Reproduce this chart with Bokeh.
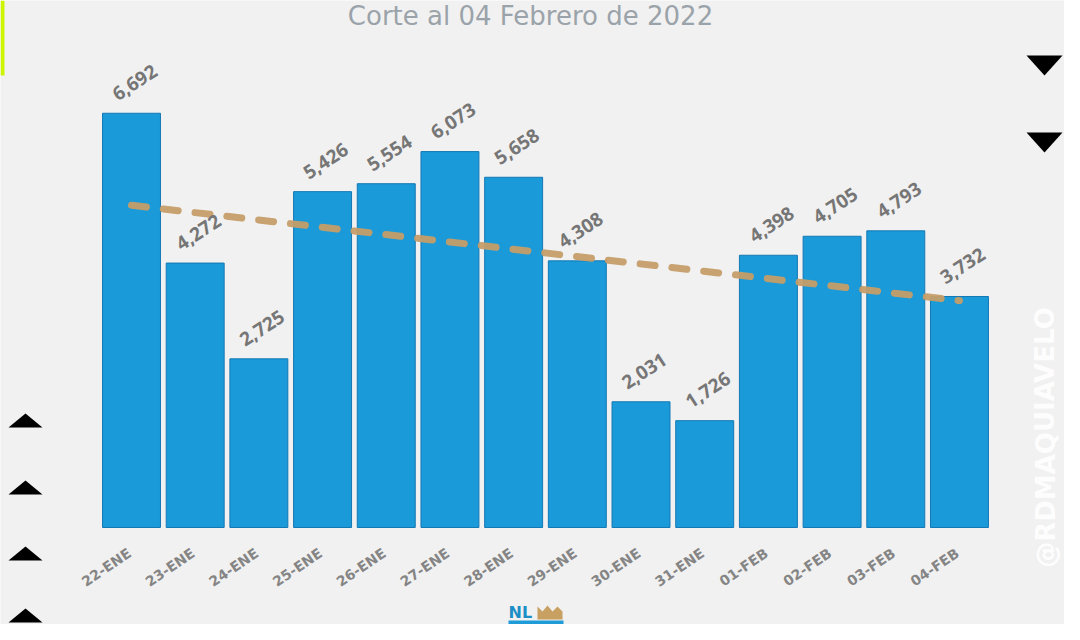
import numpy as np
from bokeh.plotting import figure
from bokeh.models import Range1d, ColumnDataSource
from bokeh.core.properties import value
from bokeh.embed import file_html
from bokeh.resources import INLINE

# ---- data ----
dates = ["22-ENE", "23-ENE", "24-ENE", "25-ENE", "26-ENE", "27-ENE", "28-ENE",
         "29-ENE", "30-ENE", "31-ENE", "01-FEB", "02-FEB", "03-FEB", "04-FEB"]
cases = [6692, 4272, 2725, 5426, 5554, 6073, 5658,
         4308, 2031, 1726, 4398, 4705, 4793, 3732]
labels = ["6,692", "4,272", "2,725", "5,426", "5,554", "6,073", "5,658",
          "4,308", "2,031", "1,726", "4,398", "4,705", "4,793", "3,732"]
trend_start_end = [5205, 3665]
title_text = "Corte al 04 Febrero de 2022"
watermark = "@RDMAQUIAVELO"

BG = "#f1f1f1"
W, H = 1064, 624
PITCH = 63.69          # px per category
X0 = 131               # px of first category centre
Y0 = 527               # px of baseline
PXU = 0.0619           # px per unit

pos = np.arange(len(dates))
src = ColumnDataSource(dict(x=pos, d=dates, v=cases, lab=labels))

p = figure(width=W, height=H, output_backend="svg", toolbar_location=None,
           x_range=Range1d(-X0 / PITCH, (W - X0) / PITCH),
           y_range=Range1d(-(H - Y0) / PXU, Y0 / PXU),
           min_border=0, min_border_left=0, min_border_right=0,
           min_border_top=0, min_border_bottom=0)
p.background_fill_color = BG
p.border_fill_color = BG
p.outline_line_color = None
p.grid.visible = False
p.axis.visible = False

# bars
p.vbar(x="x", top="v", width=0.91, source=src, fill_color="#1a9ad9",
       line_color="#1478b4", line_width=1)

# trend line (dashed)
p.line(x=[pos[0], pos[-1]], y=trend_start_end, line_color="#c59d68", line_width=7,
       line_dash="15 17", line_cap="round", line_alpha=0.95)

# value labels
p.text(x="x", y="v", text="lab", source=src, angle=0.58, x_offset=3, y_offset=-31,
       text_align="center", text_baseline="middle", text_color="#767676",
       text_font=value("Open Sans"), text_font_style="bold", text_font_size="19px")

# category labels (x axis)
p.text(x="x", y=0, text="d", source=src, angle=0.6, x_offset=-2, y_offset=24,
       text_align="right", text_baseline="middle", text_color="#858585",
       text_font=value("DejaVu Sans"), text_font_style="bold", text_font_size="14px")

# helpers: picture pixels -> data coords (decorations only)
def sx(px):
    return (px - X0) / PITCH

def sy(py):
    return (Y0 - py) / PXU

# title
p.text(x=[sx(530)], y=[sy(15)], text=[title_text], text_align="center",
       text_baseline="middle", text_color="#9ba3aa",
       text_font=value("DejaVu Sans"), text_font_size="26px")

# watermark
p.text(x=[sx(1045)], y=[sy(437)], text=[watermark], angle=1.5708,
       text_align="center", text_baseline="middle", text_color="#ffffff",
       text_alpha=0.9, text_font=value("DejaVu Sans"), text_font_style="bold",
       text_font_size="26px")

# decorative triangles
tri_x, tri_y = [], []
for top in (55, 132):
    tri_x.append([sx(1026), sx(1062), sx(1044)])
    tri_y.append([sy(top), sy(top), sy(top + 20)])
for top in (413, 480, 546, 608):
    tri_x.append([sx(8), sx(42), sx(25)])
    tri_y.append([sy(top + 14), sy(top + 14), sy(top)])
p.patches(tri_x, tri_y, fill_color="black", line_color=None)

# yellow-green strip at left edge
p.patches([[sx(0), sx(4), sx(4), sx(0)]], [[sy(0), sy(0), sy(75), sy(75)]],
          fill_color="#cdf500", line_color=None)

# small logo at bottom
p.text(x=[sx(508)], y=[sy(612)], text=["NL"], text_color="#1b8fc6",
       text_font=value("DejaVu Sans"), text_font_style="bold", text_font_size="16px",
       text_align="left", text_baseline="middle")
p.patches([[sx(537), sx(537), sx(542), sx(547), sx(552), sx(557), sx(562), sx(562)]],
          [[sy(619), sy(606), sy(611), sy(605), sy(611), sy(606), sy(611), sy(619)]],
          fill_color="#c8a062", line_color=None)
p.patches([[sx(508), sx(563), sx(563), sx(508)]],
          [[sy(620), sy(620), sy(630), sy(630)]],
          fill_color="#1f9bd8", line_color=None)

open("out.html", "w").write(file_html(p, INLINE))
